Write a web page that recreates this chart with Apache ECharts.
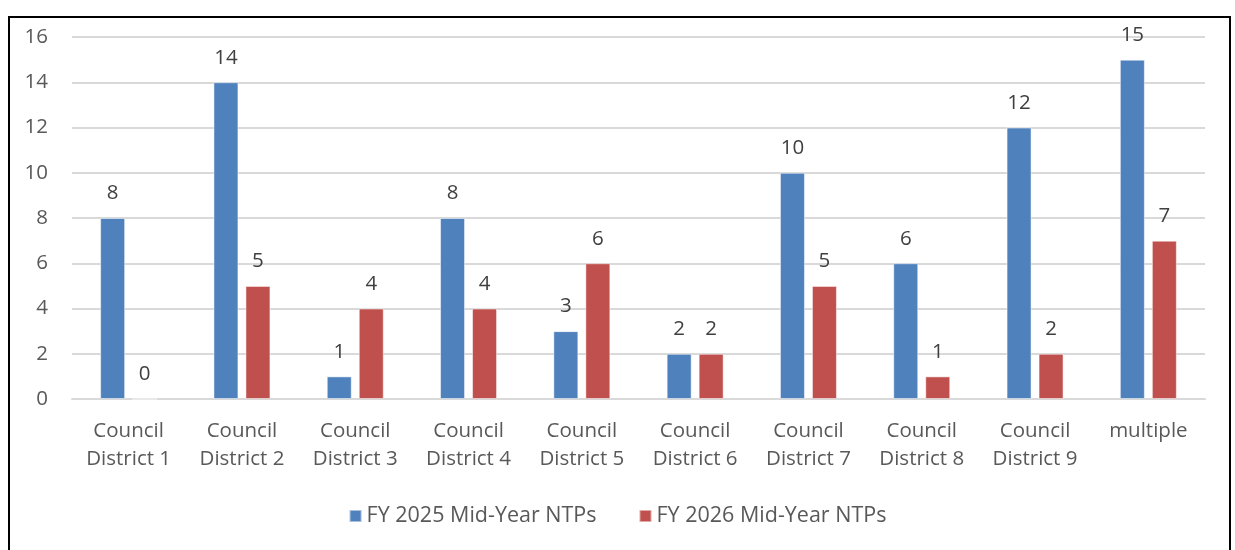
<!DOCTYPE html>
<html>
<head>
<meta charset="utf-8">
<script src="https://cdn.jsdelivr.net/npm/echarts@6/dist/echarts.min.js"></script>
<style>
  html, body { margin: 0; padding: 0; background: #fff; }
  #chart { width: 1235px; height: 550px; }
</style>
</head>
<body>
<div id="chart"></div>
<script>
// categories and values
const districts = ['Council\nDistrict 1', 'Council\nDistrict 2', 'Council\nDistrict 3', 'Council\nDistrict 4',
  'Council\nDistrict 5', 'Council\nDistrict 6', 'Council\nDistrict 7', 'Council\nDistrict 8',
  'Council\nDistrict 9', 'multiple']
const fy2025 = [8, 14, 1, 8, 3, 2, 10, 6, 12, 15]
const fy2026 = [0, 5, 4, 4, 6, 2, 5, 1, 2, 7]
const seriesNames = ['FY 2025 Mid-Year NTPs', 'FY 2026 Mid-Year NTPs']

const font = 'Open Sans'
const textColor = '#595959'
const fontSize = 20.5

const chart = echarts.init(document.getElementById('chart'))

// shared look for both series
const barStyle = (color) => ({
  color: color,
  borderColor: 'rgba(255,255,255,0.5)',
  borderWidth: 1,
})
const labelStyle = {
  show: true,
  position: 'top',
  distance: 14,
  color: '#404040',
  fontFamily: font,
  fontSize: fontSize,
}

chart.setOption({
  animation: false,
  textStyle: { fontFamily: font },
  graphic: [
    {
      type: 'rect',
      shape: { x: 9, y: 17, width: 1221, height: 545 },
      style: { fill: 'none', stroke: '#000', lineWidth: 2 },
      silent: true,
    },
  ],
  grid: { left: 72, right: 30, top: 37, bottom: 151 },
  legend: {
    data: seriesNames,
    left: 'center',
    top: 500,
    itemWidth: 12,
    itemHeight: 12,
    itemGap: 42,
    icon: 'rect',
    textStyle: { color: textColor, fontSize: 21.5, fontFamily: font },
  },
  xAxis: {
    type: 'category',
    data: districts,
    axisLine: { show: true, lineStyle: { color: '#d9d9d9', width: 2 } },
    axisTick: { show: false },
    axisLabel: {
      color: textColor,
      fontSize: fontSize,
      fontFamily: font,
      lineHeight: 28,
      margin: 18,
      interval: 0,
    },
  },
  yAxis: {
    type: 'value',
    min: 0,
    max: 16,
    interval: 2,
    axisLine: { show: false },
    axisTick: { show: false },
    axisLabel: { color: textColor, fontSize: fontSize, fontFamily: font, margin: 24 },
    splitLine: { lineStyle: { color: '#d9d9d9', width: 2 } },
  },
  series: [
    {
      name: seriesNames[0],
      type: 'bar',
      data: fy2025,
      barWidth: 25,
      barGap: '28%',
      itemStyle: barStyle('#4f81bd'),
      label: labelStyle,
    },
    {
      name: seriesNames[1],
      type: 'bar',
      data: fy2026,
      barWidth: 25,
      barGap: '28%',
      itemStyle: barStyle('#c0504d'),
      label: labelStyle,
    },
  ],
})
</script>
</body>
</html>
